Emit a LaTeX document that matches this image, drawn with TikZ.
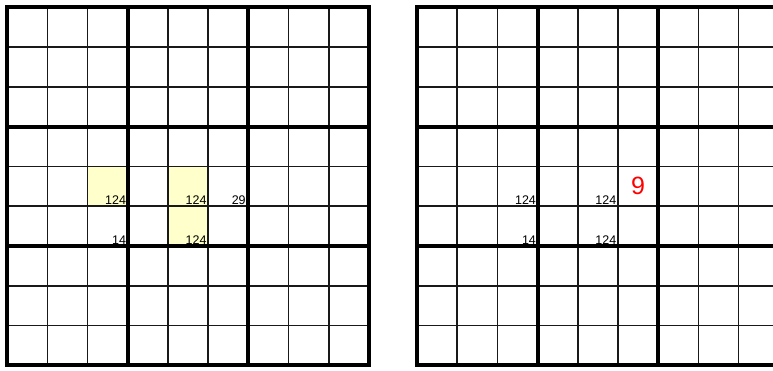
\documentclass[tikz,border=0pt]{standalone}
\usepackage{fontspec}
\setmainfont{Liberation Sans}
\definecolor{cellyellow}{HTML}{FFFFCC}
\definecolor{hintred}{HTML}{FF0000}
\begin{document}
\begin{tikzpicture}[x=1pt,y=-1pt,
  thinline/.style={line width=1.6pt, black!90},
  thickline/.style={line width=4pt, black, line cap=rect},
  hilite/.style={fill=cellyellow, draw=none},
  cand/.style={anchor=base east, inner sep=0pt, font=\fontsize{12.5}{13}\selectfont},
  solved/.style={anchor=center, inner sep=0pt, text=hintred, font=\fontsize{25}{26}\selectfont}]
\useasboundingbox (0,0) rectangle (773,370);
\clip (0,0) rectangle (773,370);
\def\cw{40.2}
\def\ch{39.8}
\def\oy{7.2}
% yellow cells (left grid)
\fill[hilite] (7.2+2*\cw,\oy+4*\ch) rectangle (7.2+3*\cw,\oy+5*\ch);
\fill[hilite] (7.2+4*\cw,\oy+4*\ch) rectangle (7.2+5*\cw,\oy+6*\ch);
% grids
\foreach \ox in {7.2,417}{
  \foreach \i in {1,2,4,5,7,8}{
    \draw[thinline] (\ox+\i*\cw,\oy) -- (\ox+\i*\cw,\oy+9*\ch);
    \draw[thinline] (\ox,\oy+\i*\ch) -- (\ox+9*\cw,\oy+\i*\ch);
  }
  \foreach \i in {0,3,6,9}{
    \draw[thickline] (\ox+\i*\cw,\oy) -- (\ox+\i*\cw,\oy+9*\ch);
    \draw[thickline] (\ox,\oy+\i*\ch) -- (\ox+9*\cw,\oy+\i*\ch);
  }
}
% left grid candidates
\node[cand] (la) at (7.2+3*\cw-1.5,\oy+5*\ch-1.5) {124};
\node[cand] (lb) at (7.2+5*\cw-1.5,\oy+5*\ch-1.5) {124};
\node[cand] (lc) at (7.2+6*\cw-2.5,\oy+5*\ch-1.5) {29};
\node[cand] (ld) at (7.2+3*\cw-1.5,\oy+6*\ch-1.5) {14};
\node[cand] (le) at (7.2+5*\cw-1.5,\oy+6*\ch-1.5) {124};
% right grid candidates
\node[cand] (ra) at (417+3*\cw-1.5,\oy+5*\ch-1.5) {124};
\node[cand] (rb) at (417+5*\cw-1.5,\oy+5*\ch-1.5) {124};
\node[cand] (rd) at (417+3*\cw-1.5,\oy+6*\ch-1.5) {14};
\node[cand] (re) at (417+5*\cw-1.5,\oy+6*\ch-1.5) {124};
\node[solved] (rnine) at (417+5.5*\cw,\oy+4.5*\ch) {9};
\end{tikzpicture}
\end{document}
